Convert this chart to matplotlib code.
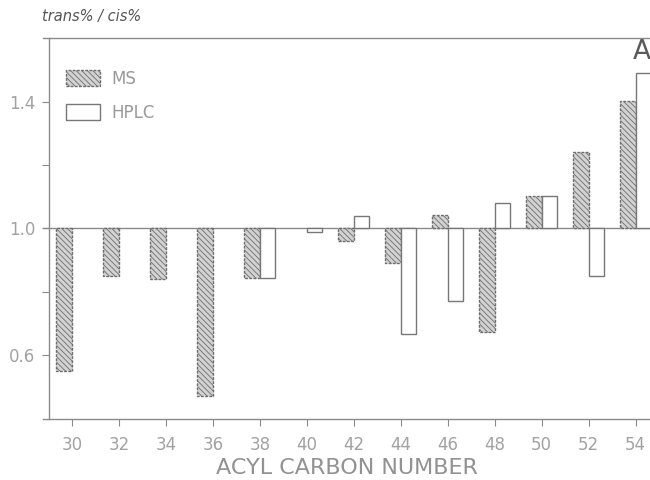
import matplotlib.pyplot as plt
import numpy as np

# trans/cis ratio per acyl carbon number, MS vs HPLC
carbons = [30, 32, 34, 36, 38, 40, 42, 44, 46, 48, 50, 52, 54]
ms = [0.549, 0.850, 0.841, 0.470, 0.842, np.nan, 0.960, 0.891, 1.042, 0.672, 1.102, 1.242, 1.403]
hplc = [np.nan, np.nan, np.nan, np.nan, 0.842, 0.987, 1.039, 0.668, 0.771, 1.081, 1.102, 0.849, 1.489]
base = 1.0

plt.rcParams['font.family'] = ['DejaVu Sans']
plt.rcParams['hatch.linewidth'] = 0.6

fig = plt.figure(figsize=(6.5, 4.8), dpi=100)
ax = fig.add_axes([0.0662, 0.127, 0.9338, 0.7945])

w = 0.66
x = np.array(carbons, dtype=float)
ms_h = np.array(ms) - base
hp_h = np.array(hplc) - base

ax.bar(x, ms_h, width=-w, bottom=base, align='edge', facecolor='#d2d2d2',
       edgecolor='#6e6e6e', hatch='\\\\\\\\\\\\', linewidth=1.0,
       linestyle=(0, (2, 1)), label='MS', zorder=2)
ax.bar(x, hp_h, width=w, bottom=base, align='edge', facecolor='white',
       edgecolor='#777777', linewidth=1.0, label='HPLC', zorder=2)

ax.axhline(base, color='#8a8a8a', lw=1.0, zorder=1)

ax.set_xlim(28.77, 54.61)
ax.set_ylim(0.398, 1.602)
ax.spines['left'].set_position(('data', 29.02))
ax.spines['right'].set_visible(False)
for s in ['left', 'top', 'bottom']:
    ax.spines[s].set_color('#8a8a8a')
    ax.spines[s].set_linewidth(1.0)

ax.set_xticks(carbons)
ax.set_yticks([0.6, 0.8, 1.0, 1.2, 1.4])
ax.set_yticklabels(['0.6', '', '1.0', '', '1.4'])
ax.tick_params(axis='both', direction='out', length=5, width=0.8,
               color='#8a8a8a', labelcolor='#a2a2a2', labelsize=12)
ax.tick_params(axis='x', pad=7)
ax.tick_params(axis='y', pad=5)

ax.set_xlabel('ACYL CARBON NUMBER', fontsize=16, color='#929292', labelpad=3)
fig.text(42 / 650, 1 - 17 / 480, 'trans% / cis%', style='italic',
         fontsize=10.5, color='#555555', ha='left', va='center')
fig.text(633 / 650, 1 - 52 / 480, 'A', fontsize=19, color='#5a5a5a',
         ha='left', va='center')

ax.legend(loc='upper left', bbox_to_anchor=(0.0136, 0.955), frameon=False,
          fontsize=12, handlelength=2.0, handleheight=1.05, labelspacing=0.95,
          handletextpad=0.7, labelcolor='#999999')

fig.savefig('out.png', dpi=100)
